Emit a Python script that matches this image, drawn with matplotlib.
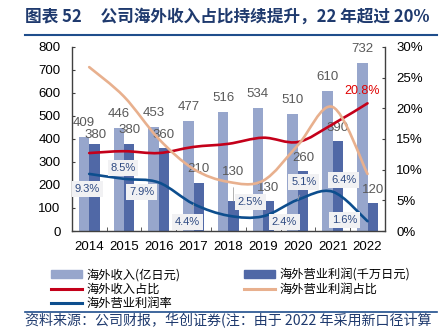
import numpy as np
import matplotlib.pyplot as plt
from matplotlib.path import Path
from matplotlib.patches import PathPatch, Patch
from matplotlib.lines import Line2D

plt.rcParams['font.family'] = ['Liberation Sans', 'Noto Sans CJK SC', 'DejaVu Sans']

# 数据
years = ['2014', '2015', '2016', '2017', '2018', '2019', '2020', '2021', '2022']
revenue = [409, 446, 453, 477, 516, 534, 510, 610, 732]          # 海外收入(亿日元)
op_profit = [380, 380, 360, 210, 130, 130, 260, 390, 120]        # 海外营业利润(千万日元)
revenue_share = [12.7, 13.0, 12.7, 13.7, 14.2, 15.2, 14.5, 17.4, 20.8]
profit_share = [26.7, 21.9, 15.0, 10.1, 8.0, 8.2, 14.0, 20.2, 9.3]
op_margin = [9.3, 8.5, 7.9, 4.4, 2.5, 2.4, 5.1, 6.4, 1.6]

C_LIGHT = '#97a6cc'
C_DARK = '#5068a6'
C_RED = '#c4001a'
C_ORANGE = '#e8b08e'
C_BLUE = '#0d4e8e'
C_NAVY = '#1f3a6e'


def smooth_path(x, y):
    # 类似Excel的平滑线 (Catmull-Rom -> 贝塞尔)
    pts = np.column_stack([x, y]).astype(float)
    ext = np.vstack([pts[0], pts, pts[-1]])
    verts = [pts[0]]
    codes = [Path.MOVETO]
    for i in range(1, len(ext) - 2):
        p0, p1, p2, p3 = ext[i - 1], ext[i], ext[i + 1], ext[i + 2]
        verts += [p1 + (p2 - p0) / 6, p2 - (p3 - p1) / 6, p2]
        codes += [Path.CURVE4] * 3
    return Path(verts, codes)


fig = plt.figure(figsize=(4.46, 3.30), dpi=100)
ax = fig.add_axes([0.161, 0.30, 0.702, 0.558])
ax2 = ax.twinx()

x = np.arange(len(years))
w = 0.30
ax.bar(x - w / 2, revenue, w, color=C_LIGHT)
ax.bar(x + w / 2, op_profit, w, color=C_DARK)

for i, v in enumerate(revenue):
    ax.annotate(str(v), (x[i] - w / 2, v), xytext=(0, 10), textcoords='offset points',
                ha='center', va='center', fontsize=9.5, color='#595959')
profit_dy = [6.0, 9.5, 9.5, 9.5, 21, 9.5, 9.5, 9.5, 9.5]
for i, v in enumerate(op_profit):
    arrow = dict(arrowstyle='-', color='#a6a6a6', lw=0.6, shrinkA=5, shrinkB=0) if i == 4 else None
    ax.annotate(str(v), (x[i] + w / 2, v), xytext=(1 if i == 0 else 0, profit_dy[i]),
                textcoords='offset points', ha='center', va='center', fontsize=9.5,
                color='#595959', arrowprops=arrow)

ax.set_xlim(-0.5, 8.5)
ax.set_ylim(0, 800)
ax.set_yticks(range(0, 801, 100))
ax.set_xticks(x)
ax.set_xticklabels(years)
ax.set_xticks(np.arange(-0.5, 9, 1), minor=True)
ax.tick_params(axis='x', which='major', length=0, pad=7, labelsize=9.5)
ax.tick_params(axis='x', which='minor', direction='in', length=3, color='#404040')
ax.tick_params(axis='y', direction='in', length=2.5, pad=8, labelsize=9.5, color='#404040')

# 折线
for vals, col in [(revenue_share, C_RED), (profit_share, C_ORANGE), (op_margin, C_BLUE)]:
    ax2.add_patch(PathPatch(smooth_path(x, vals), fill=False, edgecolor=col, lw=1.9,
                            capstyle='round'))

ax2.set_ylim(0, 30)
ax2.set_yticks(range(0, 31, 5))
ax2.set_yticklabels([f'{t}%' for t in range(0, 31, 5)])
ax2.tick_params(axis='y', direction='in', length=2.5, pad=8, labelsize=9.5, color='#404040')

margin_offsets = [(-1.4, -10.8), (-0.7, 7.9), (-12.2, -6.8), (-4.3, -13), (15.8, 9.9),
                  (15.1, -4.1), (4.3, 12.7), (7.9, 8.4), (-16.6, 0.9)]
for i, v in enumerate(op_margin):
    arrow = None
    if i in (3, 6):
        arrow = dict(arrowstyle='-', color='#a6a6a6', lw=0.6, shrinkA=4, shrinkB=0)
    ax2.annotate(f'{v}%', (x[i], v), xytext=margin_offsets[i], textcoords='offset points',
                 ha='center', va='center', fontsize=8, color='#2e4a82', arrowprops=arrow,
                 bbox=dict(boxstyle='square,pad=0.25', fc='#f1f1f3', ec='none'))

ax2.annotate(f'{revenue_share[-1]}%', (x[-1], revenue_share[-1]), xytext=(-4, 9),
             textcoords='offset points', ha='center', va='center', fontsize=9, color='#e00000')

for a in (ax, ax2):
    a.spines['top'].set_visible(False)
    for s in ('left', 'right', 'bottom'):
        a.spines[s].set_color('#404040')
        a.spines[s].set_linewidth(1.0)
ax.spines['right'].set_visible(False)
ax2.spines['left'].set_visible(False)
ax2.spines['bottom'].set_visible(False)

# 图例
handles = [
    Patch(color=C_LIGHT, label='海外收入(亿日元)'),
    Line2D([], [], color=C_RED, lw=2.2, label='海外收入占比'),
    Line2D([], [], color=C_BLUE, lw=2.2, label='海外营业利润率'),
    Patch(color=C_DARK, label='海外营业利润(千万日元)'),
    Line2D([], [], color=C_ORANGE, lw=2.2, label='海外营业利润占比'),
]
fig.legend(handles=handles, ncol=2, loc='upper left', bbox_to_anchor=(0.10, 0.205),
           frameon=False, handlelength=2.6, handleheight=0.6,
           columnspacing=5.2, labelspacing=0.1, handletextpad=0.3, borderpad=0,
           prop={'family': ['Noto Sans CJK SC', 'DejaVu Sans'], 'size': 8.8})

# 标题与来源
fig.text(0.056, 0.948, '图表 52     公司海外收入占比持续提升，22 年超过 20%', fontsize=12,
         fontweight='bold', color=C_NAVY, va='center',
         family=['Noto Sans CJK SC', 'DejaVu Sans'])
fig.add_artist(Line2D([0.056, 0.98], [0.893, 0.893], color='#1f4e8c', lw=1.5))
fig.add_artist(Line2D([0.056, 0.98], [0.055, 0.055], color='#1f4e8c', lw=1.2))
fig.text(0.056, 0.028, '资料来源：公司财报，华创证券(注：由于 2022 年采用新口径计算',
         fontsize=10.1, color=C_NAVY, va='center', style='italic',
         family=['Noto Sans CJK SC', 'DejaVu Sans'])

fig.savefig('out.png', dpi=100)
